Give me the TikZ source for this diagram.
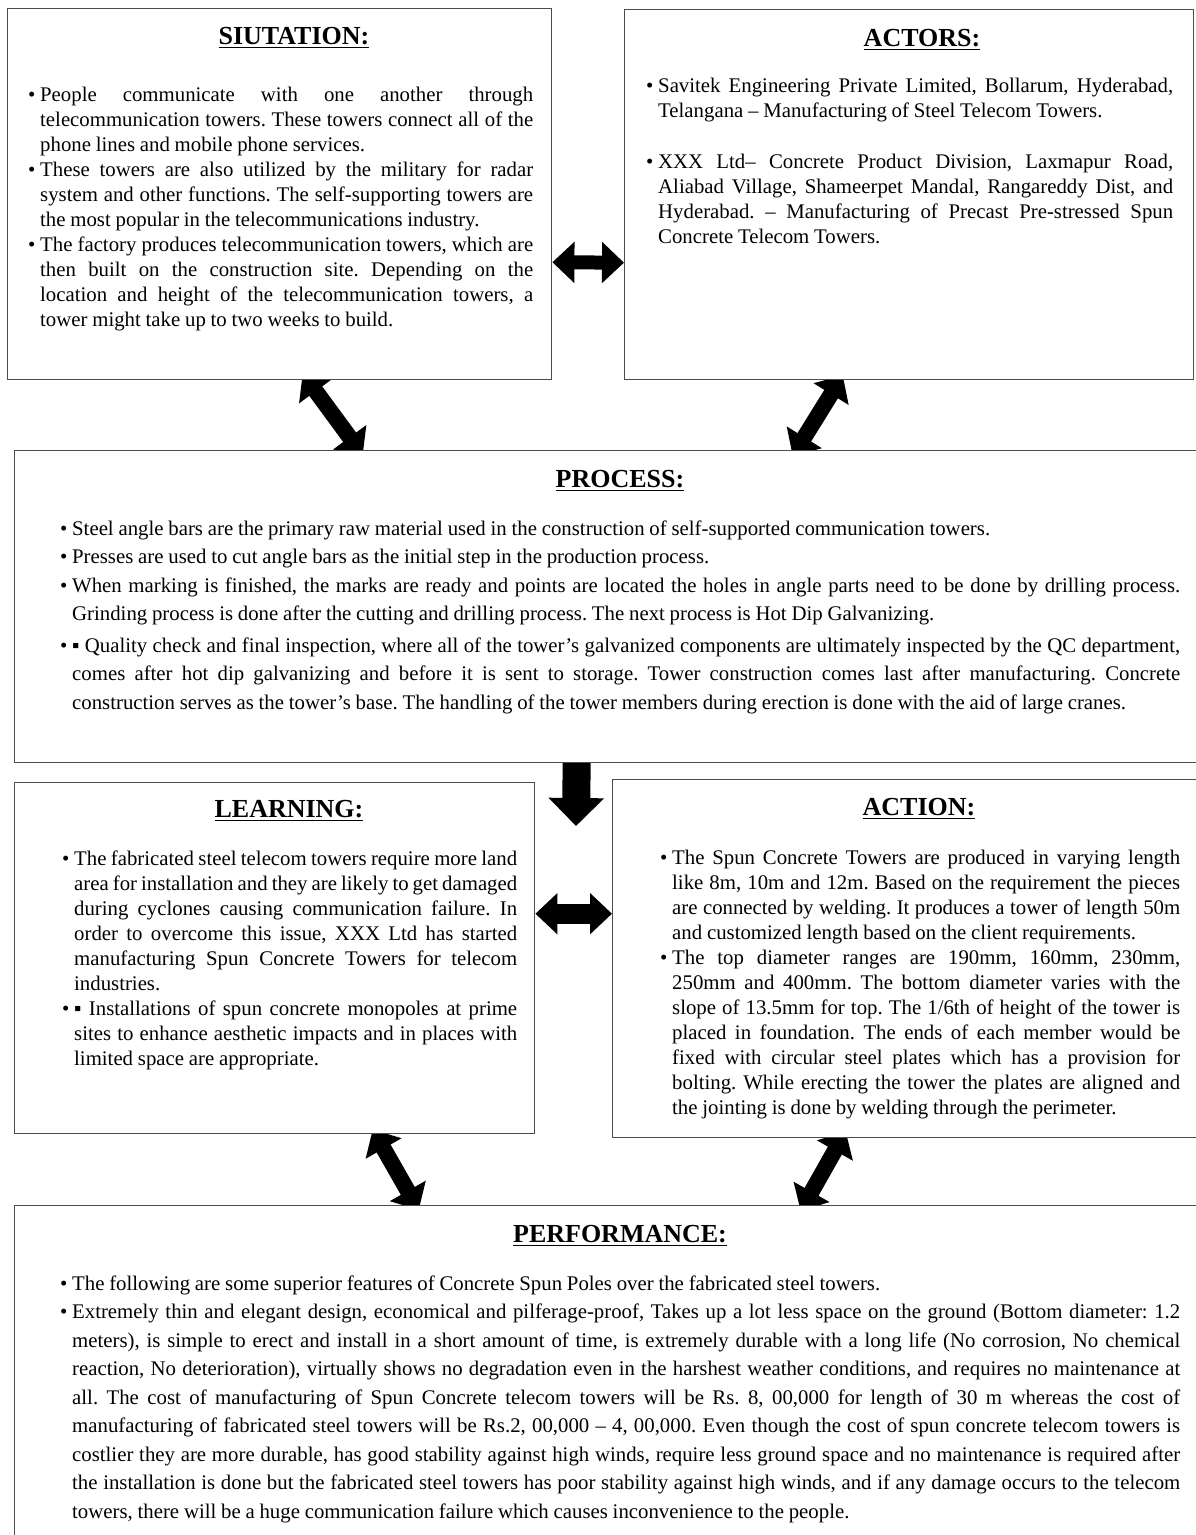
\documentclass[tikz,border=0pt]{standalone}
\usepackage{fontspec}
\setmainfont{Liberation Serif}
\usetikzlibrary{arrows.meta,backgrounds}
\hyphenpenalty=10000
\exhyphenpenalty=10000
\tolerance=10000
\hbadness=10000
\frenchspacing
\newcommand{\itm}{\par\noindent\hangindent=12pt\hangafter=1\makebox[12pt][l]{\strut\textbullet}}
\newcommand{\headul}[1]{\setbox0\hbox{#1}\rlap{\rule[-4pt]{\wd0}{1.5pt}}\box0}
\tikzset{
  box/.style={rectangle, draw=black!70, line width=1.4pt, fill=white, inner sep=0pt, anchor=north west},
  headline/.style={anchor=base, inner sep=0pt, font=\fontsize{26}{30}\selectfont\bfseries},
  bodytext/.style={anchor=north west, inner sep=0pt, align=justify,
    font={\fontsize{20.8}{25}\selectfont\spaceskip=.23em plus .6em minus .08em}},
  widetext/.style={bodytext,
    font={\fontsize{20.8}{28.5}\selectfont\spaceskip=.23em plus .6em minus .08em}},
  twoway/.style={line width=16pt, {Triangle[width=40pt,length=22pt]}-{Triangle[width=40pt,length=22pt]}},
  oneway/.style={line width=28pt, -{Triangle[width=54pt,length=28pt]}}
}
\begin{document}
\begin{tikzpicture}[x=1pt,y=-1pt]
\useasboundingbox (0,0) rectangle (1196,1535);

% boxes
\node[box, minimum width=544pt, minimum height=371pt](sit) at (7,8) {};
\node[box, minimum width=569pt, minimum height=370pt](act) at (624,9) {};
\node[box, minimum width=1200pt, minimum height=312pt](proc) at (14,450) {};
\node[box, minimum width=520pt, minimum height=351pt](learn) at (14,782) {};
\node[box, minimum width=600pt, minimum height=358pt](action) at (612,779) {};
\node[box, minimum width=1200pt, minimum height=360pt](perf) at (14,1205) {};

% titles
\node[headline](sittitle) at (294,44) {\headul{SIUTATION:}};
\node[headline](acttitle) at (922,46) {\headul{ACTORS:}};
\node[headline](proctitle) at (620,487) {\headul{PROCESS:}};
\node[headline](learntitle) at (289,817) {\headul{LEARNING:}};
\node[headline](actiontitle) at (919,815) {\headul{ACTION:}};
\node[headline](perftitle) at (620,1242) {\headul{PERFORMANCE:}};

% texts
\node[bodytext, text width=505pt](sittext) at (28,76.5) {%
\itm People communicate with one another through\linebreak telecommunication towers. These towers connect all of the\linebreak phone lines and mobile phone services.
\itm These towers are also utilized by the military for radar\linebreak system and other functions. The self-supporting towers are\linebreak the most popular in the telecommunications industry.
\itm The factory produces telecommunication towers, which are\linebreak then built on the construction site. Depending on the\linebreak location and height of the telecommunication towers, a\linebreak tower might take up to two weeks to build.\par};

\node[bodytext, text width=527pt](acttext) at (646,67.5) {%
\itm Savitek Engineering Private Limited, Bollarum, Hyderabad,\linebreak Telangana – Manufacturing of Steel Telecom Towers.
\par\vspace{26pt}
\itm XXX Ltd– Concrete Product Division, Laxmapur Road,\linebreak Aliabad Village, Shameerpet Mandal, Rangareddy Dist, and\linebreak Hyderabad. – Manufacturing of Precast Pre-stressed Spun\linebreak Concrete Telecom Towers.\par};

\node[widetext, text width=1120pt](proctext) at (60,506.5) {%
\itm Steel angle bars are the primary raw material used in the construction of self-supported communication towers.
\itm Presses are used to cut angle bars as the initial step in the production process.
\itm When marking is finished, the marks are ready and points are located the holes in angle parts need to be done by drilling process.\linebreak Grinding process is done after the cutting and drilling process. The next process is Hot Dip Galvanizing.
\par\vspace{3pt}
\itm ▪ Quality check and final inspection, where all of the tower's galvanized components are ultimately inspected by the QC department,\linebreak comes after hot dip galvanizing and before it is sent to storage. Tower construction comes last after manufacturing. Concrete\linebreak construction serves as the tower's base. The handling of the tower members during erection is done with the aid of large cranes.\par};

\node[bodytext, text width=455pt](learntext) at (62,840.5) {%
\itm The fabricated steel telecom towers require more land\linebreak area for installation and they are likely to get damaged\linebreak during cyclones causing communication failure. In\linebreak order to overcome this issue, XXX Ltd has started\linebreak manufacturing Spun Concrete Towers for telecom\linebreak industries.
\itm ▪ Installations of spun concrete monopoles at prime\linebreak sites to enhance aesthetic impacts and in places with\linebreak limited space are appropriate.\par};

\node[bodytext, text width=520pt](actiontext) at (660,839.5) {%
\itm The Spun Concrete Towers are produced in varying length\linebreak like 8m, 10m and 12m. Based on the requirement the pieces\linebreak are connected by welding. It produces a tower of length 50m\linebreak and customized length based on the client requirements.
\itm The top diameter ranges are 190mm, 160mm, 230mm,\linebreak 250mm and 400mm. The bottom diameter varies with the\linebreak slope of 13.5mm for top. The 1/6th of height of the tower is\linebreak placed in foundation. The ends of each member would be\linebreak fixed with circular steel plates which has a provision for\linebreak bolting. While erecting the tower the plates are aligned and\linebreak the jointing is done by welding through the perimeter.\par};

\node[widetext, text width=1120pt](perftext) at (60,1261.5) {%
\itm The following are some superior features of Concrete Spun Poles over the fabricated steel towers.
\itm Extremely thin and elegant design, economical and pilferage-proof, Takes up a lot less space on the ground (Bottom diameter: 1.2\linebreak meters), is simple to erect and install in a short amount of time, is extremely durable with a long life (No corrosion, No chemical\linebreak reaction, No deterioration), virtually shows no degradation even in the harshest weather conditions, and requires no maintenance at\linebreak all. The cost of manufacturing of Spun Concrete telecom towers will be Rs. 8, 00,000 for length of 30 m whereas the cost of\linebreak manufacturing of fabricated steel towers will be Rs.2, 00,000 – 4, 00,000. Even though the cost of spun concrete telecom towers is\linebreak costlier they are more durable, has good stability against high winds, require less ground space and no maintenance is required after\linebreak the installation is done but the fabricated steel towers has poor stability against high winds, and if any damage occurs to the telecom\linebreak towers, there will be a huge communication failure which causes inconvenience to the people.\par};

\coordinate (procout) at (576,826);

% arrows
\begin{scope}[on background layer]
\draw[twoway, line width=14pt] ([yshift=-68pt]sit.east) -- ([yshift=-68pt]act.west);
\draw[twoway] ([xshift=23pt,yshift=7pt]sit.south) -- ([xshift=-252pt,yshift=-5pt]proc.north);
\draw[twoway] ([xshift=-66.5pt,yshift=5pt]act.south) -- ([xshift=178pt,yshift=-6pt]proc.north);
\draw[oneway] ([xshift=-38pt,yshift=2pt]proc.south) -- (procout);
\draw[twoway, line width=20pt] ([yshift=44.5pt]learn.east) -- ([yshift=45pt]action.west);
\draw[twoway] ([xshift=98pt,yshift=5pt]learn.south) -- ([xshift=-196pt,yshift=-5pt]perf.north);
\draw[twoway] ([xshift=-67pt,yshift=7pt]action.south) -- ([xshift=186pt,yshift=-6pt]perf.north);
\end{scope}
\end{tikzpicture}
\end{document}
